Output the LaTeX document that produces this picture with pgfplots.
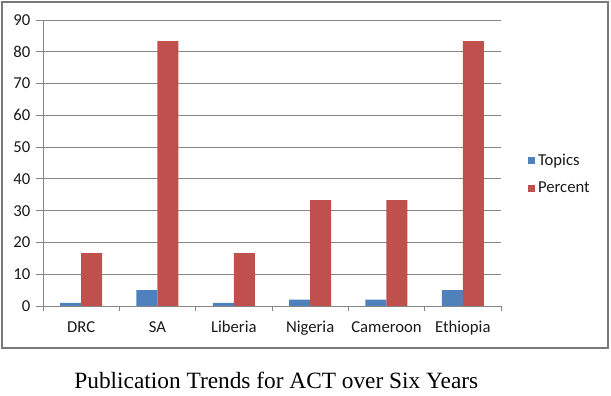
\documentclass[border=0pt]{standalone}
\usepackage{pgfplots}
\pgfplotsset{compat=1.18}
\usepackage{fontspec}
\setmainfont{Carlito}
\newfontfamily\capfont{Liberation Serif}
\definecolor{topicsblue}{HTML}{4F81BD}
\definecolor{percentred}{HTML}{C0504D}
\definecolor{axgray}{HTML}{868686}
\begin{document}
\begin{tikzpicture}[x=1pt,y=1pt]
\path (-32.25,-67.5) rectangle (426,229.5);
\draw[axgray!90!black, line width=0.8pt] (-30.75,-31.5) rectangle (423.75,228);
\node[font=\capfont\fontsize{17.5}{19}\selectfont] at (175,-55.5) {Publication Trends for ACT over Six Years};
\begin{axis}[
  at={(0,0)}, anchor=south west,
  scale only axis, width=343.5pt, height=214.5pt,
  ybar=0pt, bar width=15.75pt,
  xmin=-0.5, xmax=5.5, ymin=0, ymax=90,
  xtick={0,...,5},
  xticklabels={DRC,SA,Liberia,Nigeria,Cameroon,Ethiopia},
  minor xtick={-0.5,0.5,...,5.5},
  ytick={0,10,...,90},
  /pgf/number format/assume math mode=true,
  major x tick style={draw=none},
  minor x tick style={axgray, line width=0.6pt},
  minor tick length=4pt,
  major tick length=5pt,
  tick align=outside,
  ytick style={axgray, line width=0.6pt},
  xtick pos=bottom, ytick pos=left,
  ymajorgrids, grid style={axgray, line width=0.6pt},
  axis x line*=bottom, axis y line*=left,
  axis line style={axgray, line width=0.6pt},
  every axis plot/.append style={draw=none},
  tick label style={font=\fontsize{12.5}{14}\selectfont, text=black!90},
  xticklabel style={yshift=-3pt},
  yticklabel style={xshift=-1pt},
  legend style={at={(1.05,0.46)}, anchor=west, draw=none, fill=none,
    font=\fontsize{12.5}{14}\selectfont, row sep=7pt, text=black!90},
  legend cell align=left,
  legend image code/.code={\fill[#1] (0cm,-0.09cm) rectangle (0.19cm,0.10cm);},
]
\addplot[fill=topicsblue] coordinates {(0,1) (1,5) (2,1) (3,2) (4,2) (5,5)};
\addplot[fill=percentred] coordinates {(0,16.67) (1,83.33) (2,16.67) (3,33.33) (4,33.33) (5,83.33)};
\legend{Topics,Percent}
\end{axis}
\end{tikzpicture}
\end{document}
